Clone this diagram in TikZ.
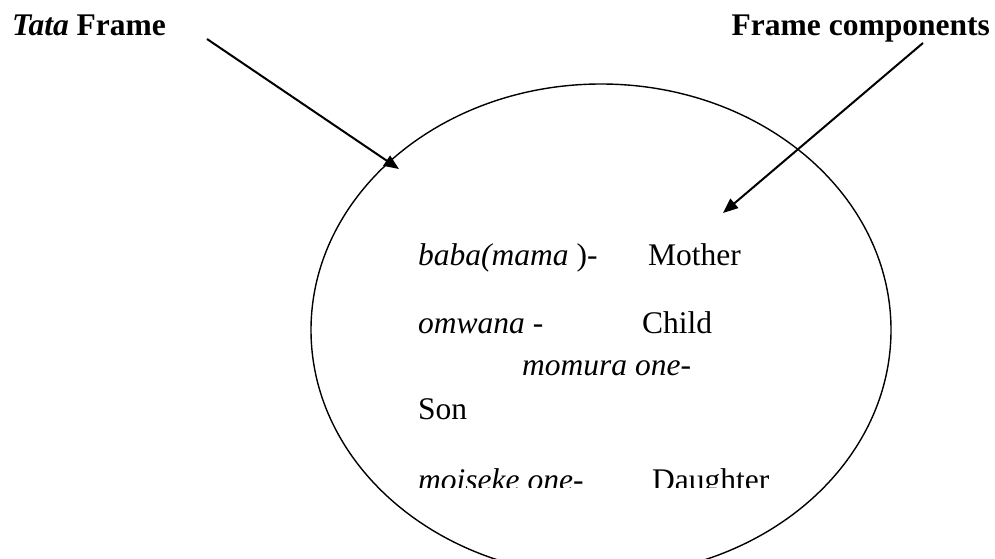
\documentclass[tikz,border=0pt]{standalone}
\usepackage{fontspec}
\setmainfont{Liberation Serif}
\usetikzlibrary{arrows.meta,shapes.geometric}
\begin{document}
\begin{tikzpicture}[x=1pt,y=-1pt,
  title/.style={anchor=base west,inner sep=0pt,font=\fontsize{31.5}{37}\selectfont\bfseries},
  entry/.style={anchor=base west,inner sep=0pt,font=\fontsize{31.5}{37}\selectfont},
  frame/.style={draw,ellipse,line width=1.4pt,minimum width=580pt,minimum height=492pt,inner sep=0pt},
  pointer/.style={line width=2pt,-{Triangle[length=15pt,width=12pt]}}]
\useasboundingbox (0,0) rectangle (995,559);
\clip (0,0) rectangle (995,559);
% frame outline
\node[frame] (frame) at (601,330) {};
% headings
\node[title] (tata) at (12,36) {\textit{Tata} Frame};
\node[title,anchor=base east] (comp) at (990,36) {Frame components};
% kin terms inside the frame
\node[entry] (baba) at (418,265) {\textit{baba(mama} )-};
\node[entry] (mother) at (648,265) {Mother};
\node[entry] (omwana) at (418,333) {\textit{omwana} -};
\node[entry] (child) at (642,333) {Child};
\node[entry] (momura) at (522,375) {\textit{momura one-}};
\node[entry] (son) at (418,419) {Son};
\begin{scope}
  \clip (300,0) rectangle (800,487);
  \node[entry] (moiseke) at (418,490) {\textit{moiseke one-}};
  \node[entry] (daughter) at (652,490) {Daughter};
\end{scope}
% pointers
\coordinate (p1) at (207,39);
\coordinate (q1) at (399,169);
\coordinate (p2) at (923,43);
\coordinate (q2) at (723,213);
\draw[pointer] (p1) -- (q1);
\draw[pointer] (p2) -- (q2);
\end{tikzpicture}
\end{document}
